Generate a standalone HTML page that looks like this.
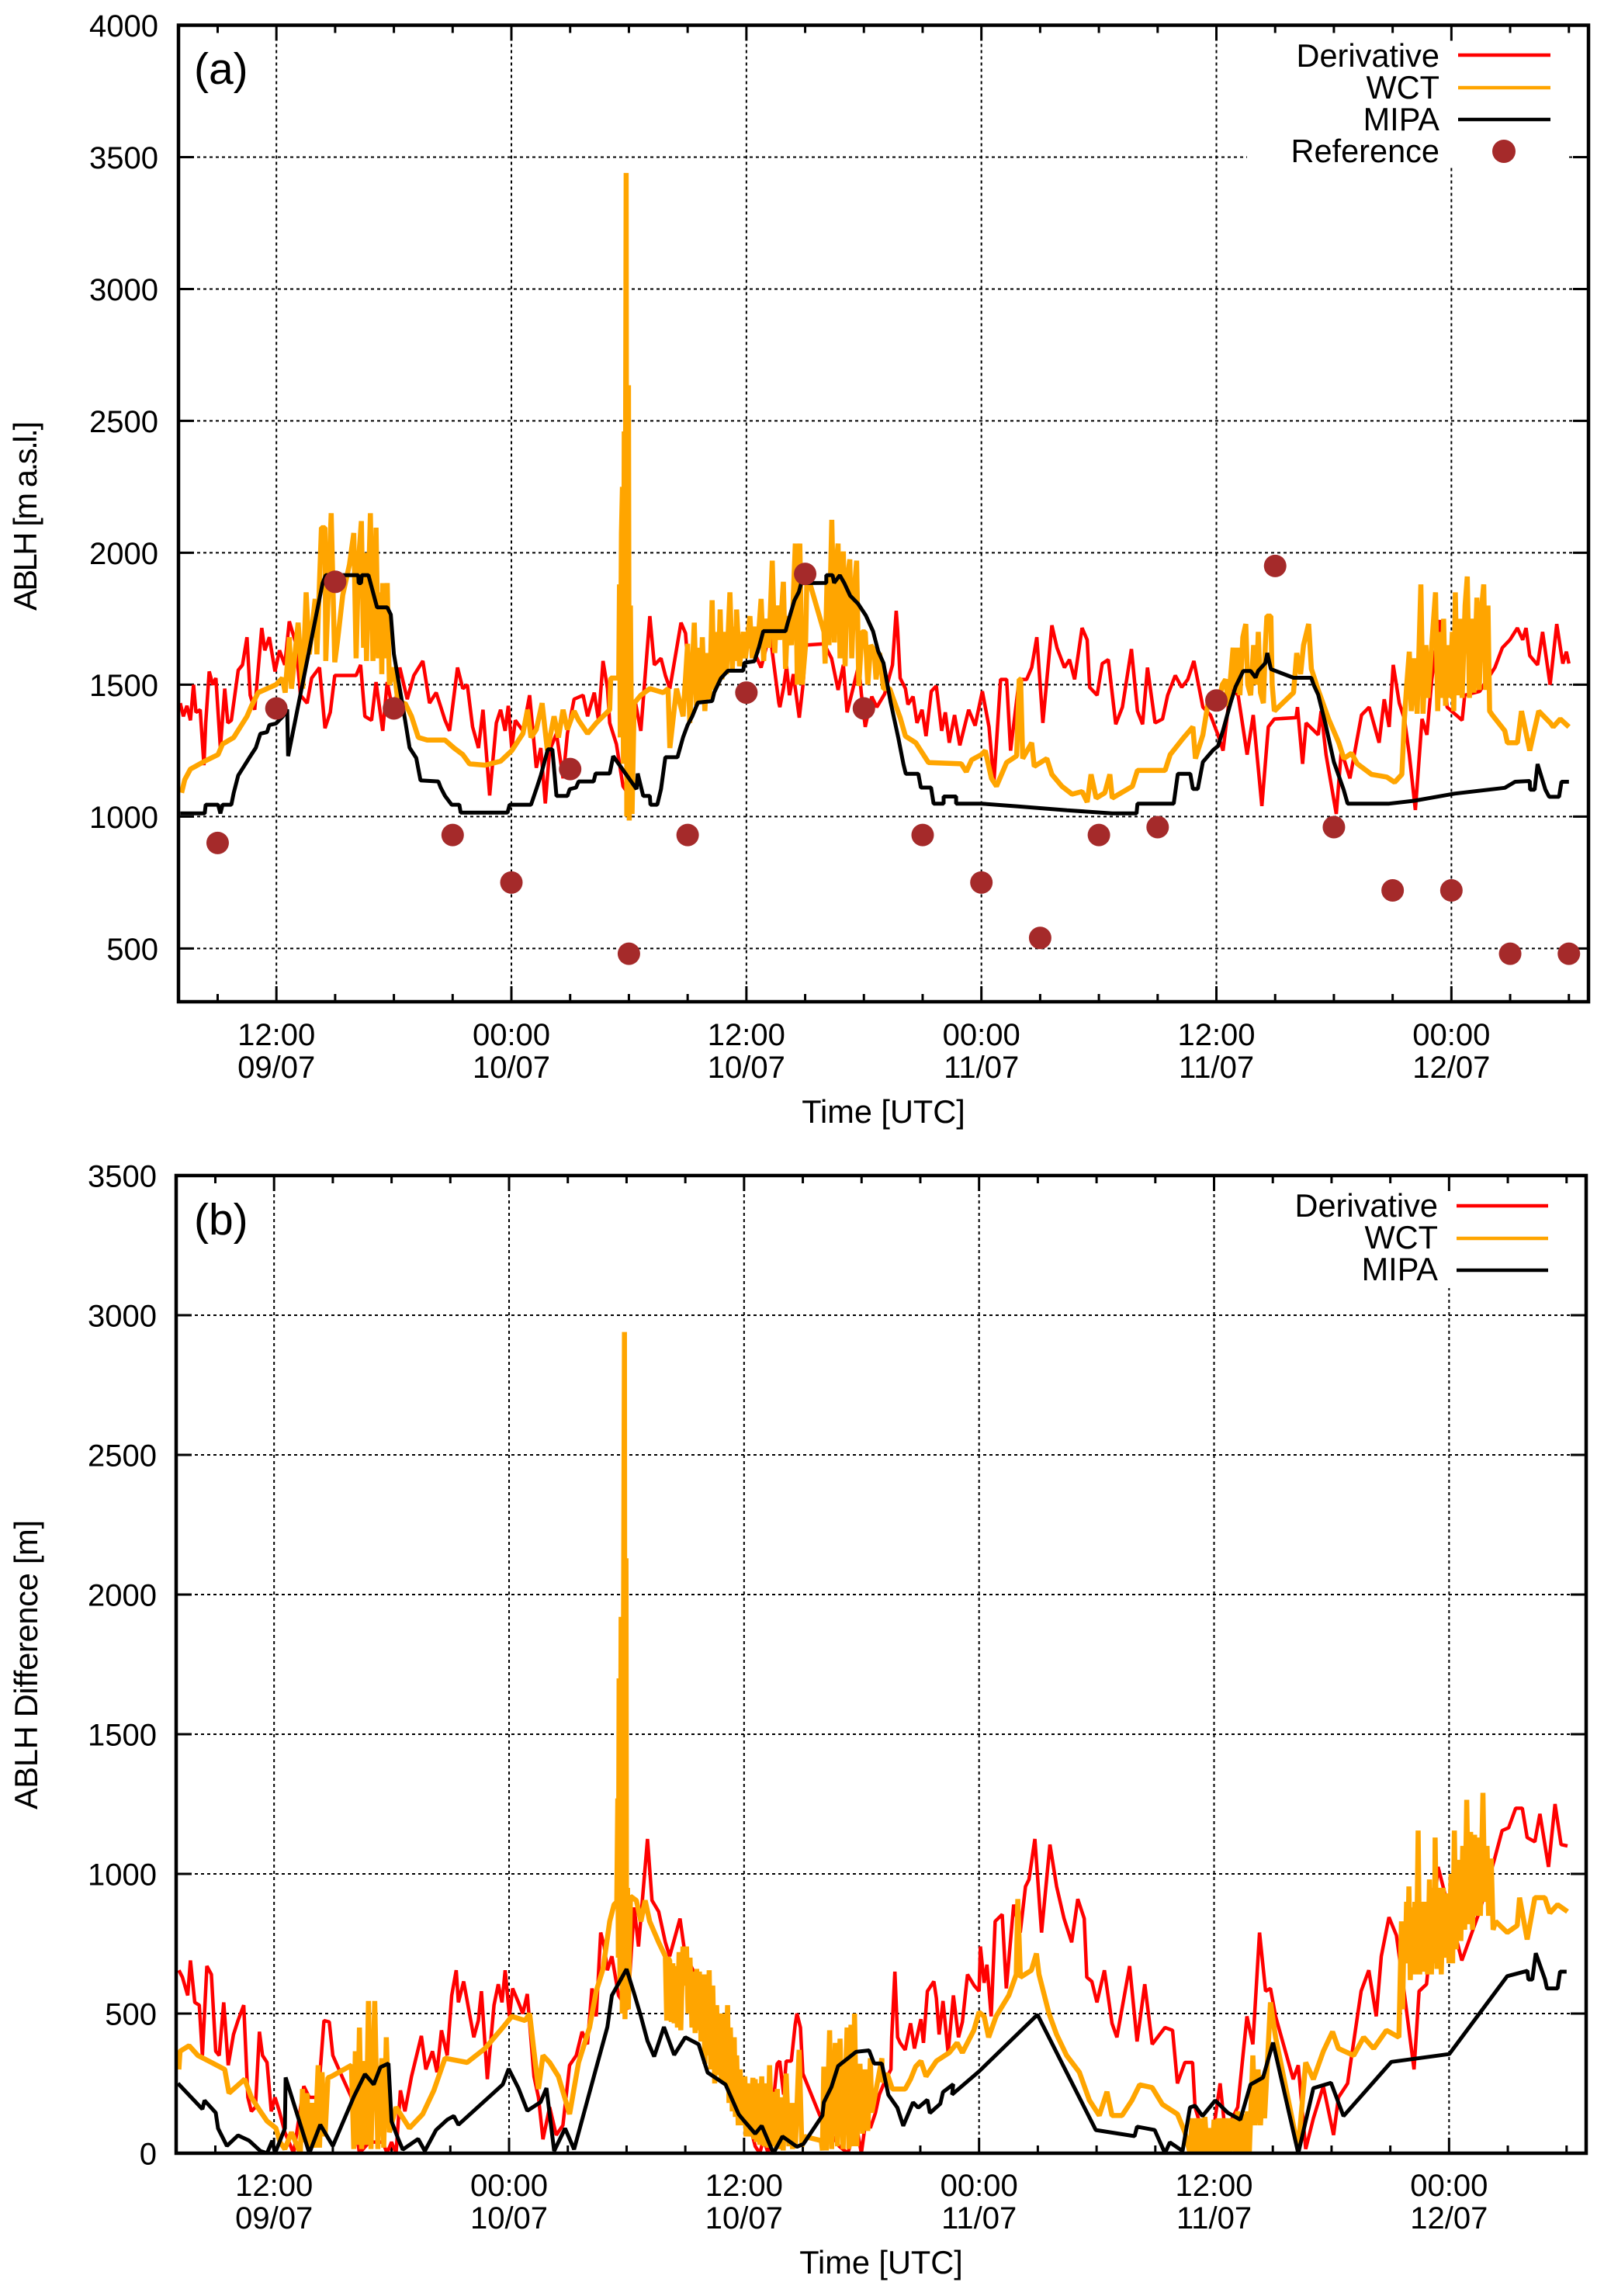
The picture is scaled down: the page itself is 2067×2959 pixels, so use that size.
<!DOCTYPE html>
<html lang="en">
<head>
<meta charset="utf-8">
<title>ABLH comparison charts</title>
<style>
html,body{margin:0;padding:0;background:#fff;}
svg{display:block;}
text{font-family:"Liberation Sans",sans-serif;font-size:40px;fill:#000;}
text.big{font-size:41.5px;}
</style>
</head>
<body>
<svg id="chart" xmlns="http://www.w3.org/2000/svg" width="2067" height="2959" viewBox="0 0 2067 2959">
  <rect x="0" y="0" width="2067" height="2959" fill="#fff"/>
  <defs>
    <clipPath id="clip-a"><rect x="230" y="32.5" width="1817" height="1258.5"/></clipPath>
    <clipPath id="clip-b"><rect x="227" y="1515" width="1817" height="1260"/></clipPath>
  </defs>
  <g id="panel-a"></g>
  <g id="panel-b"></g>

  <text x="250" y="108" style="font-size:57px">(a)</text>
  <text x="250" y="1591" style="font-size:57px">(b)</text>
  <text class="big" transform="translate(47,665) rotate(-90)" text-anchor="middle" textLength="244">ABLH [m a.s.l.]</text>
  <text class="big" transform="translate(48,2145.5) rotate(-90)" text-anchor="middle" textLength="373">ABLH Difference [m]</text>
  <text class="big" x="1138.5" y="1447" text-anchor="middle">Time [UTC]</text>
  <text class="big" x="1135.5" y="2930" text-anchor="middle">Time [UTC]</text>

  <g>
    <g><text class="big" x="1855" y="86" text-anchor="end">Derivative</text><line x1="1879" x2="1998" y1="71" y2="71" stroke="#ff0000" stroke-width="4.5"/></g>
    <g><text class="big" x="1855" y="127" text-anchor="end">WCT</text><line x1="1879" x2="1998" y1="113" y2="113" stroke="#ffa500" stroke-width="4.5"/></g>
    <g><text class="big" x="1855" y="168" text-anchor="end">MIPA</text><line x1="1879" x2="1998" y1="154" y2="154" stroke="#000" stroke-width="4.5"/></g>
    <g><text class="big" x="1855" y="209" text-anchor="end">Reference</text><circle cx="1938" cy="195" r="15" fill="#a52a2a"/></g>
  </g>
  <g>
    <g><text class="big" x="1853" y="1568" text-anchor="end">Derivative</text><line x1="1877" x2="1995" y1="1554" y2="1554" stroke="#ff0000" stroke-width="4.5"/></g>
    <g><text class="big" x="1853" y="1609" text-anchor="end">WCT</text><line x1="1877" x2="1995" y1="1596" y2="1596" stroke="#ffa500" stroke-width="4.5"/></g>
    <g><text class="big" x="1853" y="1650" text-anchor="end">MIPA</text><line x1="1877" x2="1995" y1="1637" y2="1637" stroke="#000" stroke-width="4.5"/></g>
  </g>
</svg>
<script>
// Time axis: hours since 00:00 09/07 (range 07:00 09/07 to 07:00 12/07)
const timeMajorHours = [12,24,36,48,60,72];
const timeMajorClock = ["12:00","00:00","12:00","00:00","12:00","00:00"];
const timeMajorDate = ["09/07","10/07","10/07","11/07","11/07","12/07"];
const timeMinorHours = [9,15,18,21,27,30,33,39,42,45,51,54,57,63,66,69,75,78];
const yTicksA = [500,1000,1500,2000,2500,3000,3500,4000];
const yTicksB = [0,500,1000,1500,2000,2500,3000,3500];

const referenceHoursA = [9,12,15,18,21,24,27,30,33,36,39,42,45,48,51,54,57,60,63,66,69,72,75,78];
const referenceValuesA = [900,1410,1890,1410,930,750,1180,480,930,1470,1920,1410,930,750,540,930,960,1440,1950,960,720,720,480,480];

const derivativeA = [[7.09,1430],[7.25,1380],[7.43,1420],[7.61,1365],[7.77,1500],[7.89,1395],[8.11,1405],[8.3,1195],[8.39,1355],[8.57,1550],[8.75,1500],[8.91,1525],[9.14,1260],[9.36,1485],[9.52,1355],[9.7,1365],[10.05,1555],[10.27,1575],[10.5,1680],[10.66,1460],[10.89,1405],[11.25,1715],[11.41,1630],[11.64,1680],[11.93,1550],[12.16,1630],[12.43,1575],[12.66,1740],[13,1655],[13.23,1460],[13.57,1430],[13.8,1525],[14.2,1565],[14.48,1335],[14.75,1395],[14.98,1535],[16.07,1535],[16.3,1575],[16.52,1380],[16.86,1365],[17.09,1510],[17.43,1325],[17.66,1510],[18,1380],[18.3,1565],[18.68,1445],[19.02,1535],[19.48,1590],[19.82,1430],[20.16,1470],[20.61,1365],[20.84,1325],[21.25,1565],[21.52,1485],[21.75,1500],[22.02,1340],[22.32,1260],[22.55,1405],[22.89,1080],[23.23,1355],[23.45,1405],[23.68,1325],[23.84,1420],[24.02,1260],[24.2,1365],[24.59,1325],[24.93,1460],[25.27,1185],[25.5,1260],[25.73,1050],[25.95,1250],[26.3,1315],[26.64,1145],[26.86,1315],[27.2,1445],[27.66,1460],[27.89,1380],[28.23,1470],[28.45,1365],[28.68,1590],[28.91,1485],[29.02,1355],[29.36,1275],[29.7,1115],[29.93,1090],[30.34,1430],[30.61,1325],[31.07,1760],[31.3,1575],[31.64,1600],[31.86,1535],[32.09,1485],[32.66,1735],[32.89,1695],[33.11,1485],[33.8,1590],[34.48,1615],[35.39,1670],[36.3,1640],[36.75,1565],[37.2,1695],[37.66,1430],[37.71,1415],[37.9,1490],[38.05,1570],[38.2,1460],[38.4,1540],[38.7,1375],[38.9,1505],[39.03,1650],[39.96,1655],[40.35,1600],[40.68,1480],[40.95,1575],[41.14,1395],[41.74,1575],[41.87,1465],[42.07,1340],[42.4,1455],[42.66,1415],[43.06,1465],[43.46,1575],[43.65,1780],[43.72,1710],[43.85,1525],[44.12,1485],[44.25,1425],[44.51,1455],[44.71,1355],[44.97,1405],[45.17,1305],[45.44,1475],[45.7,1495],[45.97,1325],[46.16,1395],[46.36,1280],[46.63,1385],[46.9,1270],[47.35,1405],[47.68,1345],[48.05,1475],[48.39,1340],[48.64,1130],[48.98,1520],[49.29,1520],[49.49,1250],[49.93,1520],[50.31,1520],[50.57,1565],[50.83,1680],[51.14,1355],[51.6,1725],[51.86,1640],[52.24,1565],[52.5,1595],[52.76,1520],[53.14,1715],[53.4,1670],[53.53,1490],[53.91,1460],[54.17,1580],[54.48,1595],[54.86,1350],[55.2,1415],[55.66,1635],[55.97,1400],[56.23,1350],[56.48,1565],[56.87,1355],[57.25,1370],[57.51,1460],[57.9,1535],[58.23,1490],[58.54,1520],[58.85,1590],[59.31,1415],[59.7,1385],[60.08,1310],[60.34,1250],[60.73,1490],[61.11,1460],[61.57,1235],[61.88,1385],[62.32,1040],[62.65,1340],[62.96,1370],[64.07,1375],[64.14,1415],[64.4,1200],[64.58,1355],[65.2,1310],[65.35,1400],[65.6,1235],[66.12,1010],[66.38,1250],[66.82,1145],[67.41,1385],[67.8,1415],[68.31,1280],[68.57,1445],[68.82,1340],[69.03,1575],[69.34,1430],[69.6,1370],[69.85,1235],[70.16,1025],[70.5,1370],[70.75,1310],[71,1520],[71.39,1745],[71.78,1415],[72.55,1365],[72.68,1460],[73.45,1475],[74.22,1565],[74.6,1640],[74.99,1670],[75.37,1715],[75.64,1670],[75.81,1715],[76,1610],[76.4,1575],[76.66,1700],[77.04,1500],[77.38,1730],[77.69,1580],[77.87,1625],[78,1580]];

const wctA = [[7.16,1090],[7.32,1140],[7.61,1180],[8.34,1210],[9.02,1235],[9.25,1275],[9.82,1300],[10.16,1340],[10.5,1380],[10.73,1420],[11.07,1470],[11.52,1485],[11.98,1500],[12.3,1525],[12.45,1470],[12.66,1680],[12.77,1485],[13.11,1735],[13.34,1485],[13.52,1850],[13.68,1615],[13.98,1825],[14.07,1615],[14.3,2095],[14.48,2095],[14.52,1590],[14.8,2150],[14.98,1585],[15.11,1660],[15.39,1840],[15.73,1955],[15.95,2075],[16.07,1600],[16.2,1980],[16.34,2120],[16.45,1640],[16.52,2000],[16.6,1590],[16.8,2150],[16.93,1590],[17.09,2095],[17.2,1600],[17.32,1850],[17.38,1540],[17.43,1885],[17.55,1600],[17.66,1885],[17.77,1500],[18,1565],[18.23,1420],[18.57,1430],[18.9,1380],[19.25,1300],[19.7,1290],[20.61,1290],[21.07,1260],[21.52,1235],[21.86,1200],[22.66,1195],[23.45,1210],[24.02,1250],[24.59,1315],[24.82,1405],[25,1300],[25.27,1330],[25.57,1430],[25.84,1250],[26.18,1380],[26.4,1300],[26.64,1405],[26.86,1330],[27.2,1400],[27.43,1365],[27.89,1315],[28.34,1355],[29.02,1405],[29.07,1525],[29.48,1525],[29.52,1880],[29.56,1300],[29.62,2075],[29.67,2250],[29.72,1200],[29.76,2460],[29.8,1350],[29.86,3440],[29.89,1000],[29.94,2000],[29.98,2635],[30.02,985],[30.08,1800],[30.16,1010],[30.27,1430],[30.61,1460],[31.07,1485],[31.75,1470],[32,1485],[32.09,1260],[32.43,1485],[32.77,1380],[33,1655],[33.11,1355],[33.34,1735],[33.45,1420],[33.57,1640],[33.66,1430],[33.75,1680],[33.88,1400],[34.02,1620],[34.12,1445],[34.25,1820],[34.35,1480],[34.43,1700],[34.55,1500],[34.66,1785],[34.75,1520],[34.82,1700],[34.98,1540],[35.16,1850],[35.28,1560],[35.39,1720],[35.45,1590],[35.5,1785],[35.65,1570],[35.84,1700],[35.95,1600],[36.18,1760],[36.3,1600],[36.41,1720],[36.55,1620],[36.75,1825],[36.88,1590],[36.98,1750],[37.15,1640],[37.32,1970],[37.45,1620],[37.55,1800],[37.7,1670],[37.89,1890],[38,1560],[38.11,1760],[38.3,1650],[38.5,2035],[38.6,1500],[38.68,1900],[38.73,2035],[38.85,1500],[39.02,1650],[39.1,1950],[39.22,1890],[39.96,1700],[40.02,1580],[40.12,1900],[40.22,1650],[40.36,2125],[40.49,1660],[40.58,1950],[40.68,2035],[40.78,1600],[40.95,2005],[41.04,1570],[41.15,1900],[41.28,1975],[41.38,1600],[41.5,1850],[41.63,1970],[41.74,1495],[41.9,1700],[42.07,1700],[42.2,1500],[42.35,1650],[42.53,1630],[42.62,1520],[42.8,1620],[43,1485],[43.32,1485],[43.46,1455],[43.85,1375],[44.12,1305],[44.65,1280],[45.3,1205],[46.97,1200],[47.23,1170],[47.5,1215],[48,1235],[48.2,1250],[48.51,1145],[48.77,1115],[49.29,1205],[49.8,1230],[49.93,1520],[50,1520],[50.11,1220],[50.57,1280],[50.7,1190],[51.34,1220],[51.6,1160],[52.11,1115],[52.63,1085],[53.14,1095],[53.4,1055],[53.6,1160],[53.86,1070],[54.3,1090],[54.56,1160],[54.68,1070],[55.71,1115],[55.97,1175],[57.38,1175],[57.64,1235],[58.28,1295],[58.8,1340],[58.93,1220],[59.31,1310],[59.57,1430],[60.08,1415],[60.3,1500],[60.47,1520],[60.6,1420],[60.85,1640],[60.95,1470],[61.1,1640],[61.2,1460],[61.35,1680],[61.5,1730],[61.6,1500],[61.75,1460],[61.9,1650],[62.05,1500],[62.14,1700],[62.25,1470],[62.4,1430],[62.5,1650],[62.58,1760],[62.78,1760],[62.85,1500],[62.96,1400],[63.94,1470],[64.1,1620],[64.3,1540],[64.45,1650],[64.71,1730],[64.85,1560],[65.2,1480],[65.73,1370],[66.25,1280],[66.51,1220],[66.9,1240],[67.2,1200],[67.92,1160],[68.7,1150],[69.1,1130],[69.47,1160],[69.6,1370],[69.72,1500],[69.85,1625],[69.95,1400],[70.1,1600],[70.25,1390],[70.44,1880],[70.55,1390],[70.7,1650],[70.8,1450],[71.19,1850],[71.3,1400],[71.4,1700],[71.5,1450],[71.6,1750],[71.7,1420],[71.78,1650],[71.9,1450],[72.05,1700],[72.12,1400],[72.2,1850],[72.3,1460],[72.45,1750],[72.55,1450],[72.7,1800],[72.81,1910],[72.92,1450],[73.05,1750],[73.15,1470],[73.3,1830],[73.42,1480],[73.55,1800],[73.65,1880],[73.75,1480],[73.87,1800],[73.95,1400],[74.09,1385],[74.73,1325],[74.86,1280],[75.37,1280],[75.58,1400],[76,1250],[76.46,1400],[77.05,1355],[77.2,1340],[77.56,1370],[78,1340]];

const mipaA = [[7.09,1012],[8.34,1012],[8.39,1045],[9.02,1045],[9.14,1012],[9.25,1045],[9.7,1045],[9.82,1090],[10.05,1156],[10.39,1196],[10.61,1222],[10.95,1261],[11.18,1314],[11.52,1320],[11.64,1347],[11.98,1353],[12.32,1379],[12.55,1406],[12.6,1229],[14.36,1885],[14.52,1915],[16.18,1915],[16.2,1885],[16.32,1885],[16.36,1915],[16.7,1915],[17.14,1793],[17.66,1793],[17.84,1766],[18,1616],[18.57,1366],[18.8,1261],[19.14,1222],[19.36,1137],[20.27,1133],[20.39,1110],[20.61,1078],[20.95,1045],[21.34,1045],[21.41,1015],[23.8,1015],[23.91,1045],[25,1045],[25.3,1110],[25.5,1156],[25.86,1255],[26.09,1255],[26.3,1078],[26.86,1078],[26.98,1104],[27.3,1110],[27.43,1133],[28.2,1133],[28.3,1163],[29.02,1163],[29.2,1229],[30.39,1104],[30.45,1163],[30.73,1078],[31.07,1078],[31.1,1045],[31.45,1045],[31.64,1104],[31.86,1225],[32.48,1225],[32.77,1301],[33,1347],[33.23,1379],[33.52,1432],[34.25,1438],[34.36,1471],[34.7,1524],[35.05,1553],[35.84,1553],[35.89,1583],[36.41,1589],[36.64,1642],[36.86,1703],[38,1703],[38.11,1734],[38.45,1819],[38.68,1852],[38.8,1885],[40.08,1886],[40.08,1915],[40.4,1915],[40.48,1886],[40.77,1915],[41,1885],[41.3,1837],[41.7,1807],[42.1,1762],[42.47,1702],[42.73,1627],[43,1582],[43.37,1432],[43.76,1297],[44.02,1199],[44.14,1162],[44.78,1162],[44.91,1110],[45.43,1110],[45.56,1049],[46.07,1049],[46.07,1076],[46.71,1076],[46.71,1049],[48,1049],[49.8,1039],[52.37,1024],[54.68,1012],[55.92,1012],[55.97,1049],[57.82,1049],[58.03,1162],[58.67,1162],[58.8,1105],[59.05,1105],[59.31,1207],[59.83,1252],[60.08,1267],[60.34,1327],[60.73,1432],[60.98,1492],[61.37,1552],[61.75,1552],[62,1527],[62.13,1552],[62.5,1582],[62.6,1620],[62.78,1559],[63.94,1526],[64.84,1526],[64.97,1499],[65.2,1462],[65.6,1342],[66,1207],[66.5,1102],[66.7,1049],[68.82,1049],[70.1,1060],[72.16,1087],[74.73,1109],[75.25,1132],[76,1135],[76.02,1102],[76.25,1102],[76.4,1199],[76.8,1102],[76.99,1075],[77.5,1075],[77.62,1132],[78,1132]];

const derivativeB = [[7.14,655],[7.32,630],[7.59,565],[7.73,690],[7.95,540],[8.18,530],[8.34,350],[8.57,670],[8.8,640],[9.02,365],[9.2,350],[9.43,540],[9.66,315],[9.93,425],[10.16,475],[10.45,530],[10.66,200],[10.84,150],[11.05,165],[11.25,435],[11.41,350],[11.64,325],[11.86,150],[12.05,200],[12.27,150],[12.55,75],[13,0],[13.52,240],[13.8,200],[14.25,200],[14.55,475],[14.82,470],[15,350],[15.5,270],[15.95,200],[16.36,0],[16.86,40],[17.55,40],[17.77,0],[18,40],[18.23,0],[18.45,225],[18.68,150],[19.02,275],[19.52,420],[19.75,300],[20.09,365],[20.32,290],[20.55,440],[20.84,350],[21.07,565],[21.3,655],[21.41,540],[21.68,615],[21.98,500],[22.2,415],[22.43,475],[22.59,580],[22.89,265],[23.23,530],[23.45,605],[23.64,540],[23.8,655],[24.02,490],[24.18,590],[24.48,540],[24.7,500],[24.93,570],[25.27,275],[25.5,200],[25.73,50],[26.07,165],[26.41,65],[26.75,100],[27.09,315],[27.43,350],[27.73,435],[28,390],[28.23,590],[28.45,490],[28.68,790],[28.86,740],[29.02,655],[29.25,705],[29.59,565],[30.05,515],[30.39,880],[30.61,740],[31.07,1125],[31.3,905],[31.64,865],[31.98,755],[32.2,705],[32.73,840],[32.98,715],[33.91,580],[34.6,480],[36,180],[36.57,25],[36.8,0],[37,50],[37.23,0],[37.69,320],[37.82,330],[38.02,210],[38.15,330],[38.41,330],[38.61,460],[38.7,500],[38.88,450],[39,285],[39.87,135],[40.86,25],[41.3,0],[41.72,105],[41.99,0],[42.25,135],[42.45,90],[42.71,145],[42.91,210],[43.17,255],[43.5,300],[43.54,415],[43.7,650],[43.84,415],[43.97,395],[44.23,370],[44.5,465],[44.7,375],[45.03,480],[45.16,395],[45.36,580],[45.69,615],[45.82,555],[45.96,425],[46.16,545],[46.42,360],[46.69,565],[46.95,415],[47.15,470],[47.41,640],[47.75,600],[48,580],[48.07,740],[48.26,610],[48.4,675],[48.62,490],[48.82,830],[49.18,855],[49.39,590],[49.77,890],[50.1,790],[50.37,955],[50.55,980],[50.85,1125],[51.19,790],[51.62,1105],[51.96,955],[52.34,840],[52.73,755],[53.04,910],[53.37,840],[53.5,630],[53.76,615],[54.02,540],[54.4,655],[54.79,465],[55.04,415],[55.69,670],[56.07,400],[56.46,605],[56.84,390],[57.49,450],[57.88,440],[58.13,250],[58.51,325],[58.9,325],[59.03,165],[59.4,75],[59.8,0],[60.31,250],[60.57,75],[61.21,165],[61.68,490],[61.98,390],[62.32,790],[62.63,580],[62.88,590],[63.14,490],[64.04,265],[64.3,315],[64.68,15],[65.07,125],[65.58,240],[66.1,65],[66.35,200],[66.82,250],[67.51,580],[67.9,655],[68.28,490],[68.54,705],[68.93,845],[69.31,780],[69.7,580],[70.21,300],[70.47,580],[70.85,605],[71.44,1025],[72.65,690],[73.55,865],[74.33,1055],[74.71,1155],[75.04,1165],[75.4,1235],[75.74,1235],[75.99,1130],[76.38,1115],[76.64,1215],[77.08,1025],[77.41,1250],[77.72,1105],[78.05,1100]];

const wctB = [[7.14,300],[7.2,365],[7.66,385],[8.11,350],[8.8,325],[9.48,300],[9.7,215],[10.5,265],[10.84,200],[11.3,150],[11.64,115],[12.09,90],[12.3,40],[12.55,15],[12.89,75],[13.34,0],[13.45,230],[13.55,40],[13.68,215],[13.8,15],[13.95,180],[14.08,20],[14.25,315],[14.32,20],[14.45,290],[14.6,60],[14.75,270],[14.93,275],[15.95,315],[16.07,15],[16.15,365],[16.25,30],[16.36,450],[16.47,15],[16.6,330],[16.7,30],[16.82,545],[16.95,15],[17.14,545],[17.3,15],[17.5,340],[17.6,20],[17.73,415],[17.89,75],[18.23,165],[18.91,90],[19.59,140],[20.16,225],[20.73,340],[21.86,325],[22.77,375],[23.68,450],[24.14,490],[24.82,475],[25.05,500],[25.27,365],[25.5,230],[25.73,350],[26.07,325],[26.52,275],[27.09,140],[27.55,325],[28.11,450],[28.45,580],[28.8,660],[29.14,830],[29.36,890],[29.5,900],[29.55,1270],[29.58,700],[29.62,1700],[29.66,600],[29.72,1920],[29.78,500],[29.89,2940],[29.92,480],[29.97,2130],[30,600],[30.05,950],[30.09,515],[30.2,920],[30.5,905],[30.73,830],[30.95,905],[31.18,830],[31.64,755],[31.98,705],[32.05,475],[32.12,700],[32.2,690],[32.28,470],[32.36,680],[32.43,465],[32.5,670],[32.6,450],[32.68,720],[32.77,440],[32.88,740],[32.98,600],[33.06,740],[33.14,500],[33.24,700],[33.34,450],[33.42,650],[33.5,430],[33.58,660],[33.65,440],[33.72,650],[33.8,400],[33.9,640],[34,320],[34.08,640],[34.15,350],[34.22,655],[34.3,300],[34.4,600],[34.5,250],[34.6,530],[34.68,280],[34.75,500],[34.83,260],[34.9,500],[35.05,250],[35.16,530],[35.23,180],[35.3,450],[35.4,150],[35.5,415],[35.56,130],[35.62,350],[35.7,100],[35.8,300],[35.9,100],[36.04,275],[36.1,60],[36.17,250],[36.3,60],[36.45,270],[36.5,50],[36.57,265],[36.63,40],[36.7,250],[36.8,30],[36.9,275],[37.03,25],[37.15,250],[37.22,20],[37.3,315],[37.43,25],[37.55,220],[37.63,20],[37.7,230],[37.76,15],[37.9,200],[38,10],[38.15,285],[38.29,25],[38.4,180],[38.48,15],[38.55,180],[38.62,25],[38.81,370],[38.95,25],[39.08,60],[39.94,45],[40,10],[40.07,310],[40.2,10],[40.37,440],[40.47,15],[40.66,395],[40.77,25],[40.9,410],[41.06,15],[41.26,450],[41.35,15],[41.46,460],[41.56,25],[41.64,500],[41.75,25],[41.92,320],[42.05,70],[42.18,300],[42.32,80],[42.45,340],[42.52,145],[43.04,340],[43.04,255],[43.31,285],[43.57,230],[44.23,230],[44.5,265],[44.76,310],[45.03,330],[45.29,275],[45.82,330],[46.48,360],[46.88,395],[47.15,360],[47.73,440],[48,505],[48.26,490],[48.49,415],[48.87,490],[49.52,565],[49.9,640],[49.98,910],[50.11,630],[50.67,655],[50.93,715],[51.06,640],[51.57,500],[51.96,425],[52.47,350],[53.12,290],[53.63,190],[54.14,135],[54.53,220],[54.79,135],[55.3,135],[55.81,190],[56.2,245],[56.84,235],[57.36,175],[58.13,140],[58.51,75],[58.77,0],[58.88,125],[58.98,0],[59.08,125],[59.2,0],[59.3,125],[59.4,0],[59.53,130],[59.65,0],[59.8,90],[59.9,0],[60,120],[60.1,0],[60.2,125],[60.3,0],[60.44,125],[60.55,0],[60.7,125],[60.8,0],[60.95,125],[61.08,0],[61.2,150],[61.34,0],[61.45,140],[61.6,0],[61.7,150],[61.8,0],[61.98,350],[62.1,100],[62.25,300],[62.37,100],[62.5,280],[62.58,125],[62.88,540],[63.14,415],[64.3,15],[64.68,325],[65.07,265],[65.58,365],[66.05,435],[66.35,375],[67.13,350],[67.64,415],[68.15,375],[68.8,440],[69.44,415],[69.57,830],[69.63,515],[69.7,800],[69.76,680],[69.83,900],[69.88,680],[69.95,955],[70.02,620],[70.1,880],[70.18,640],[70.25,900],[70.33,640],[70.42,1155],[70.5,640],[70.6,900],[70.7,650],[70.8,900],[70.9,640],[71,980],[71.1,640],[71.2,950],[71.25,680],[71.29,1130],[71.38,660],[71.5,950],[71.6,640],[71.7,950],[71.8,700],[71.9,930],[72,680],[72.1,1000],[72.18,680],[72.27,1155],[72.36,730],[72.5,1050],[72.6,760],[72.7,1100],[72.8,800],[72.9,1265],[73,820],[73.1,1150],[73.2,800],[73.3,1140],[73.4,850],[73.5,1130],[73.6,850],[73.73,1290],[73.82,900],[73.94,1100],[74.02,850],[74.15,1055],[74.25,800],[74.38,830],[74.97,790],[75.48,815],[75.6,915],[75.99,765],[76.38,915],[76.89,915],[77.15,860],[77.54,890],[78.05,865]];

const mipaB = [[7.09,250],[8.34,158],[8.45,189],[9.02,145],[9.14,89],[9.59,26],[10.16,64],[10.73,45],[11.3,8],[11.64,0],[11.91,45],[12.05,0],[12.55,89],[12.59,271],[13.8,0],[14.36,102],[15,26],[16.07,202],[16.64,283],[17.09,246],[17.43,308],[17.84,321],[18,114],[18.34,51],[18.57,13],[19.36,51],[19.7,8],[20.27,83],[20.84,120],[21.18,133],[21.41,102],[23.68,246],[23.98,302],[24.48,233],[24.93,152],[25.61,183],[25.91,233],[26.3,8],[26.86,89],[27.32,14],[28.34,277],[29.02,452],[29.25,565],[30,659],[30.39,571],[30.73,490],[31.07,402],[31.41,346],[31.91,452],[32.43,352],[33,415],[33.68,390],[34.14,289],[35.05,246],[35.73,139],[36,116],[36.57,70],[36.9,98],[37.5,0],[37.96,60],[38.7,23],[39.03,33],[40,135],[40.07,182],[40.46,237],[40.8,312],[41.72,363],[42.38,368],[42.64,321],[43.03,321],[43.37,209],[43.83,163],[44.13,98],[44.63,182],[44.89,163],[45.36,191],[45.49,144],[46.02,177],[46.16,219],[46.68,247],[46.62,210],[48,293],[50.98,496],[53.96,83],[55.94,61],[56.07,95],[56.97,83],[57.49,0],[57.74,39],[58.39,8],[58.77,164],[59.03,170],[59.41,133],[60.06,189],[60.7,145],[61.34,120],[61.86,246],[62.5,271],[63.01,396],[64.3,0],[65.07,233],[65.97,252],[66.61,133],[69.05,327],[72.01,355],[74.97,634],[76,653],[76.05,622],[76.25,622],[76.43,716],[76.9,622],[77,590],[77.54,590],[77.67,650],[78,650]];

const SVGNS = 'http://www.w3.org/2000/svg';
const T_MIN = 7, T_MAX = 79;

function makeLine(parent, x1, y1, x2, y2, stroke, width, dash, name) {
  const el = document.createElementNS(SVGNS, 'line');
  el.setAttribute('x1', x1);
  el.setAttribute('y1', y1);
  el.setAttribute('x2', x2);
  el.setAttribute('y2', y2);
  el.setAttribute('stroke', stroke);
  el.setAttribute('stroke-width', width);
  if (dash) el.setAttribute('stroke-dasharray', dash);
  
  
  parent.appendChild(el);
  return el;
}

function makeText(parent, x, y, str, anchor, name) {
  const el = document.createElementNS(SVGNS, 'text');
  el.setAttribute('x', x);
  el.setAttribute('y', y);
  el.setAttribute('text-anchor', anchor);
  
  
  el.textContent = str;
  parent.appendChild(el);
  return el;
}

function makeSeries(parent, pts, xs, ys, stroke, width, clipId, name) {
  const el = document.createElementNS(SVGNS, 'path');
  let d = '';
  for (let i = 0; i < pts.length; i++) {
    d += (i ? 'L' : 'M') + xs(pts[i][0]).toFixed(1) + ' ' + ys(pts[i][1]).toFixed(1);
  }
  el.setAttribute('d', d);
  el.setAttribute('fill', 'none');
  el.setAttribute('stroke', stroke);
  el.setAttribute('stroke-width', width);
  el.setAttribute('stroke-linejoin', 'bevel');
  el.setAttribute('clip-path', 'url(#' + clipId + ')');
  
  
  parent.appendChild(el);
}

function drawPanel(root, box, vMin, vMax, yTicks, labelRight, clockY, dateY, mask, clipId, suffix, series) {
  const xs = t => box.left + (t - T_MIN) * (box.right - box.left) / (T_MAX - T_MIN);
  const ys = v => box.bottom - (v - vMin) * (box.bottom - box.top) / (vMax - vMin);

  // grid
  yTicks.forEach(v => {
    if (v === vMin || v === vMax) return;
    makeLine(root, box.left, ys(v), box.right, ys(v), '#000', 2, '4 4', 'grid-line-y-' + suffix);
  });
  timeMajorHours.forEach(t => {
    makeLine(root, xs(t), box.top, xs(t), box.bottom, '#000', 2, '4 4', 'grid-line-x-' + suffix);
  });

  // legend background masks the grid
  const maskEl = document.createElementNS(SVGNS, 'rect');
  maskEl.setAttribute('x', mask.x);
  maskEl.setAttribute('y', mask.y);
  maskEl.setAttribute('width', mask.w);
  maskEl.setAttribute('height', mask.h);
  maskEl.setAttribute('fill', '#fff');
  
  
  root.appendChild(maskEl);

  // ticks
  yTicks.forEach(v => {
    if (v !== vMin && v !== vMax) {
      makeLine(root, box.left, ys(v), box.left + 20, ys(v), '#000', 3, '', 'y-tick-left-' + suffix);
      makeLine(root, box.right - 20, ys(v), box.right, ys(v), '#000', 3, '', 'y-tick-right-' + suffix);
    }
    makeText(root, labelRight, ys(v) + 14.5, String(v), 'end', 'y-tick-label-' + suffix);
  });
  timeMajorHours.forEach((t, i) => {
    makeLine(root, xs(t), box.bottom, xs(t), box.bottom - 20, '#000', 3, '', 'x-tick-bottom-' + suffix);
    makeLine(root, xs(t), box.top, xs(t), box.top + 20, '#000', 3, '', 'x-tick-top-' + suffix);
    makeText(root, xs(t), clockY, timeMajorClock[i], 'middle', 'x-tick-time-label-' + suffix);
    makeText(root, xs(t), dateY, timeMajorDate[i], 'middle', 'x-tick-date-label-' + suffix);
  });
  timeMinorHours.forEach(t => {
    makeLine(root, xs(t), box.bottom, xs(t), box.bottom - 10, '#000', 3, '', 'x-minor-tick-bottom-' + suffix);
    makeLine(root, xs(t), box.top, xs(t), box.top + 10, '#000', 3, '', 'x-minor-tick-top-' + suffix);
  });

  // series
  makeSeries(root, series.derivative, xs, ys, '#ff0000', 4.5, clipId, 'derivative-line-' + suffix);
  makeSeries(root, series.wct, xs, ys, '#ffa500', 6.5, clipId, 'wct-line-' + suffix);
  makeSeries(root, series.mipa, xs, ys, '#000000', 5, clipId, 'mipa-line-' + suffix);

  if (series.refHours) {
    series.refHours.forEach((t, i) => {
      const dot = document.createElementNS(SVGNS, 'circle');
      dot.setAttribute('cx', xs(t));
      dot.setAttribute('cy', ys(series.refValues[i]));
      dot.setAttribute('r', 14.5);
      dot.setAttribute('fill', '#a52a2a');
      
      
      root.appendChild(dot);
    });
  }

  // frame
  const frame = document.createElementNS(SVGNS, 'rect');
  frame.setAttribute('x', box.left);
  frame.setAttribute('y', box.top);
  frame.setAttribute('width', box.right - box.left);
  frame.setAttribute('height', box.bottom - box.top);
  frame.setAttribute('fill', 'none');
  frame.setAttribute('stroke', '#000');
  frame.setAttribute('stroke-width', 4.5);
  
  
  root.appendChild(frame);
}

drawPanel(document.getElementById('panel-a'),
  {left: 230, right: 2047, top: 32.5, bottom: 1291}, 298, 4000, yTicksA, 204, 1347, 1389,
  {x: 1607, y: 35, w: 415, h: 180}, 'clip-a', 'a',
  {derivative: derivativeA, wct: wctA, mipa: mipaA, refHours: referenceHoursA, refValues: referenceValuesA});

drawPanel(document.getElementById('panel-b'),
  {left: 227, right: 2044, top: 1515, bottom: 2775}, 0, 3500, yTicksB, 202, 2830, 2872,
  {x: 1610, y: 1518, w: 410, h: 142}, 'clip-b', 'b',
  {derivative: derivativeB, wct: wctB, mipa: mipaB});
</script>
</body>
</html>
